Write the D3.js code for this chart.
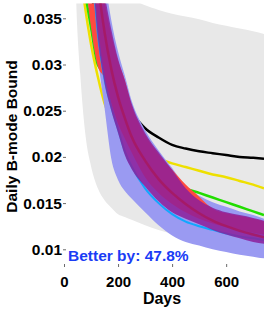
<!DOCTYPE html>
<html>
<head>
<meta charset="utf-8">
<script src="https://cdn.jsdelivr.net/npm/d3@7"></script>
<style>
  html, body { margin: 0; padding: 0; background: #fff; }
  text { font-family: "Liberation Sans", Arial, sans-serif; font-weight: bold; }
</style>
</head>
<body>
<svg id="chart" width="266" height="309"></svg>
<script>
// days sampled along the x axis
const days = [40, 45, 60, 80, 100, 125, 150, 175, 200, 225, 250, 300, 350, 400, 450, 500, 550, 600, 650, 700, 740];

// grey envelope
const grayLo = [0.042, 0.037, 0.029, 0.0222, 0.019, 0.0166, 0.0153, 0.0145, 0.0138, 0.0135, 0.0132, 0.0126, 0.0121, 0.0117, 0.0113, 0.011, 0.0107, 0.0104, 0.0101, 0.0099, 0.0097];
const grayHi = [0.08, 0.075, 0.065, 0.055, 0.049, 0.044, 0.0415, 0.0398, 0.0386, 0.0378, 0.0372, 0.0364, 0.0359, 0.0355, 0.0352, 0.0349, 0.0345, 0.0342, 0.0339, 0.0336, 0.0333];

// blue band
const blueLo = [0.07, 0.065, 0.056, 0.047, 0.04, 0.031, 0.0253, 0.0198, 0.0175, 0.0163, 0.0155, 0.014, 0.0126, 0.0115, 0.0108, 0.0104, 0.01, 0.0097, 0.0094, 0.0092, 0.009];
const blueHi = [0.095, 0.09, 0.08, 0.066, 0.056, 0.046, 0.0395, 0.0348, 0.0314, 0.0288, 0.0261, 0.0229, 0.0207, 0.0188, 0.0168, 0.0158, 0.0151, 0.0146, 0.0141, 0.0137, 0.0133];

// red band
const redLo = [0.055, 0.052, 0.046, 0.039, 0.034, 0.0298, 0.0285, 0.0258, 0.0236, 0.022, 0.0205, 0.0178, 0.0161, 0.0149, 0.014, 0.0133, 0.0128, 0.0124, 0.0121, 0.0118, 0.0116];
const redHi = [0.07, 0.067, 0.06, 0.053, 0.047, 0.0415, 0.0368, 0.0332, 0.0304, 0.0283, 0.0256, 0.0224, 0.0203, 0.0186, 0.017, 0.0157, 0.0144, 0.0139, 0.0136, 0.0133, 0.013];

// purple band
const purpleLo = [0.07, 0.066, 0.058, 0.05, 0.042, 0.033, 0.028, 0.025, 0.0226, 0.0202, 0.0187, 0.0168, 0.0152, 0.014, 0.0133, 0.0127, 0.0121, 0.0116, 0.0112, 0.0108, 0.0106];
const purpleHi = [0.09, 0.085, 0.075, 0.062, 0.053, 0.044, 0.0378, 0.0338, 0.0306, 0.0283, 0.0258, 0.0226, 0.0205, 0.0186, 0.0166, 0.0153, 0.0145, 0.014, 0.0137, 0.0134, 0.0131];

// single lines
const blackLine = [0.06, 0.057, 0.05, 0.043, 0.038, 0.034, 0.031, 0.0288, 0.027, 0.0258, 0.0248, 0.0231, 0.0221, 0.0213, 0.0209, 0.0206, 0.0204, 0.0202, 0.02, 0.0199, 0.0198];
const yellowLine = [0.05, 0.047, 0.0405, 0.0358, 0.0322, 0.0287, 0.0258, 0.024, 0.0228, 0.022, 0.0214, 0.0205, 0.0198, 0.0193, 0.0189, 0.0185, 0.0181, 0.0178, 0.0174, 0.017, 0.0166];
const greenLine = [0.052, 0.049, 0.042, 0.0375, 0.034, 0.03, 0.029, 0.0265, 0.0245, 0.0228, 0.0215, 0.0198, 0.0186, 0.0175, 0.0166, 0.0161, 0.0156, 0.0151, 0.0146, 0.0141, 0.0137];
const cyanLine = [0.07, 0.066, 0.058, 0.05, 0.0424, 0.0334, 0.0284, 0.0254, 0.023, 0.0206, 0.019, 0.0166, 0.015, 0.0138, 0.013, 0.0125, 0.0121, 0.0117, 0.0114, 0.0112, 0.011];
const magentaLine = [0.08, 0.075, 0.065, 0.055, 0.047, 0.039, 0.0335, 0.0295, 0.0265, 0.0242, 0.0222, 0.0196, 0.0176, 0.0161, 0.0149, 0.0139, 0.0131, 0.0125, 0.012, 0.0116, 0.0113];

const xTicks = [0, 200, 400, 600];
const yTicks = [0.01, 0.015, 0.02, 0.025, 0.03, 0.035];
const yTickLabels = ["0.01", "0.015", "0.02", "0.025", "0.03", "0.035"];
const betterText = "Better by: 47.8%";

const svg = d3.select("#chart");

const x = d3.scaleLinear().domain([0, 740]).range([64, 264]);
const y = d3.scaleLinear().domain([0.01, 0.035]).range([249.3, 18.3]);

const plotTop = 3.5, plotBottom = y(0.009);

svg.append("defs").append("clipPath").attr("id", "plotclip")
  .append("rect")
  .attr("x", 64).attr("y", plotTop)
  .attr("width", x(740) - 64).attr("height", plotBottom - plotTop);

const g = svg.append("g").attr("clip-path", "url(#plotclip)");

const band = (lo, hi) => d3.area()
  .x((d, i) => x(days[i]))
  .y0((d, i) => y(lo[i]))
  .y1((d, i) => y(hi[i]))
  .curve(d3.curveMonotoneX)(days);

const line = vals => d3.line()
  .x((d, i) => x(days[i]))
  .y((d, i) => y(vals[i]))
  .curve(d3.curveMonotoneX)(days);

const stroke = (vals, color, w) => g.append("path").attr("d", line(vals))
  .attr("fill", "none").attr("stroke", color).attr("stroke-width", w);

g.append("path").attr("d", band(grayLo, grayHi)).attr("fill", "#e8e8e8");

stroke(blackLine, "#000", 2.5);
stroke(yellowLine, "#eee000", 2.5);

g.append("path").attr("d", band(blueLo, blueHi)).attr("fill", "#9a9af2");

stroke(greenLine, "#22dd00", 2.5);

g.append("path").attr("d", band(redLo, redHi)).attr("fill", "#ff4a40");

stroke(cyanLine, "#10a8ff", 2);

g.append("path").attr("d", band(purpleLo, purpleHi))
  .attr("fill", "rgb(140,30,155)").attr("fill-opacity", 0.85);

stroke(magentaLine, "#a8185e", 2.5).attr("stroke-opacity", 0.8);

// y axis
const yAxis = svg.append("g").attr("transform", "translate(66,0)")
  .call(d3.axisLeft(y).tickValues(yTicks).tickSize(3).tickPadding(1)
    .tickFormat((d, i) => yTickLabels[i]));
yAxis.select(".domain").remove();
yAxis.selectAll("line").attr("stroke", "#444").attr("stroke-width", 0.8);
yAxis.selectAll("text").attr("fill", "#000").style("font-size", "15.5px");

// x axis
const xAxis = svg.append("g").attr("transform", "translate(0,264)")
  .call(d3.axisBottom(x).tickValues(xTicks).tickSize(3).tickFormat(d3.format("d")));
xAxis.select(".domain").remove();
xAxis.selectAll("line").attr("stroke", "#444").attr("stroke-width", 0.8);
xAxis.selectAll("text").attr("fill", "#000").attr("y", 22.5).attr("dy", null)
  .style("font-size", "15px");

svg.append("text")
  .attr("x", 162).attr("y", 304)
  .attr("text-anchor", "middle")
  .style("font-size", "16px")
  .text("Days");

svg.append("text")
  .attr("transform", "rotate(-90)")
  .attr("x", -136.5).attr("y", 17)
  .attr("text-anchor", "middle")
  .style("font-size", "15.5px")
  .text("Daily B-mode Bound");

svg.append("text")
  .attr("x", 68).attr("y", 261)
  .attr("fill", "#1a3cf5")
  .style("font-size", "15.5px")
  .text(betterText);
</script>
</body>
</html>
